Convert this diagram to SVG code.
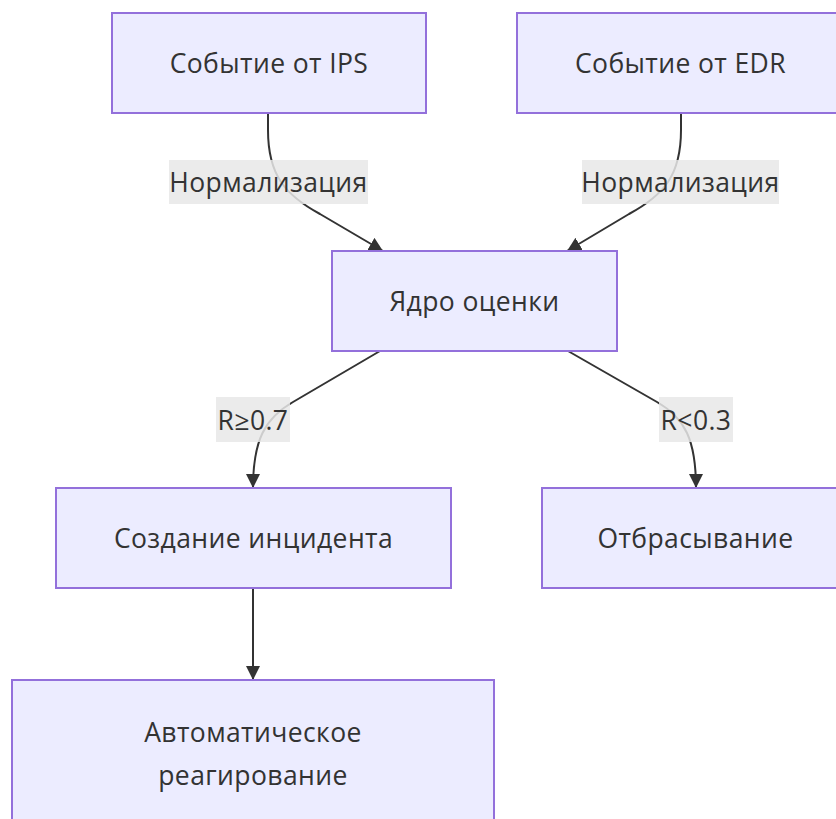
<svg xmlns="http://www.w3.org/2000/svg" width="836" height="819" viewBox="0 0 836 819">
<style>
.node rect{fill:#ECECFF;stroke:#9370DB;stroke-width:2}
.node text,.lbl text{font-family:"Open Sans","Noto Sans","DejaVu Sans",sans-serif;font-size:26.5px;letter-spacing:0.4px;fill:#333;text-anchor:middle;dominant-baseline:central}
.edge{fill:none;stroke:#333;stroke-width:2}
.lbl rect{fill:#e8e8e8;fill-opacity:0.85}
</style>
<defs>
<marker id="arr" viewBox="0 0 10 10" refX="10" refY="5" markerWidth="14" markerHeight="14" markerUnits="userSpaceOnUse" orient="auto">
<path d="M0,0 L10,5 L0,10 z" fill="#333"/>
</marker>
</defs>
<rect width="836" height="819" fill="#fff"/>
<g id="edges">
<path class="edge" d="M268,113 L268,130 C268,175 285,195 320,214 L383,251" marker-end="url(#arr)"/>
<path class="edge" d="M681,113 L681,130 C681,175 664,195 629,214 L567,251" marker-end="url(#arr)"/>
<path class="edge" d="M380,351 L293,402 C265,418 253,440 253,488" marker-end="url(#arr)"/>
<path class="edge" d="M568,351 L657,402 C685,418 696,440 696,488" marker-end="url(#arr)"/>
<path class="edge" d="M253,588 L253,680" marker-end="url(#arr)"/>
</g>
<g id="edge-labels">
<g class="lbl"><rect x="169" y="160" width="199" height="44"/><text x="268.5" y="182">Нормализация</text></g>
<g class="lbl"><rect x="582" y="160" width="197" height="44"/><text x="680.5" y="182">Нормализация</text></g>
<g class="lbl"><rect x="216" y="397" width="74" height="45"/><text x="253" y="419.5">R≥0.7</text></g>
<g class="lbl"><rect x="659" y="397" width="74" height="45"/><text x="696" y="419.5">R&lt;0.3</text></g>
</g>
<g id="n-ips" class="node"><rect x="112" y="13" width="314" height="100"/><text x="269" y="63">Событие от IPS</text></g>
<g id="n-edr" class="node"><rect x="517" y="13" width="327" height="100"/><text x="680.5" y="63">Событие от EDR</text></g>
<g id="n-core" class="node"><rect x="332" y="251" width="285" height="100"/><text x="474.5" y="301">Ядро оценки</text></g>
<g id="n-inc" class="node"><rect x="56" y="488" width="395" height="100"/><text x="253.5" y="538">Создание инцидента</text></g>
<g id="n-drop" class="node"><rect x="542" y="488" width="307" height="100"/><text x="695.5" y="538">Отбрасывание</text></g>
<g id="n-auto" class="node"><rect x="12" y="680" width="482" height="147"/><text x="253" y="732">Автоматическое</text><text x="253" y="775">реагирование</text></g>
</svg>
